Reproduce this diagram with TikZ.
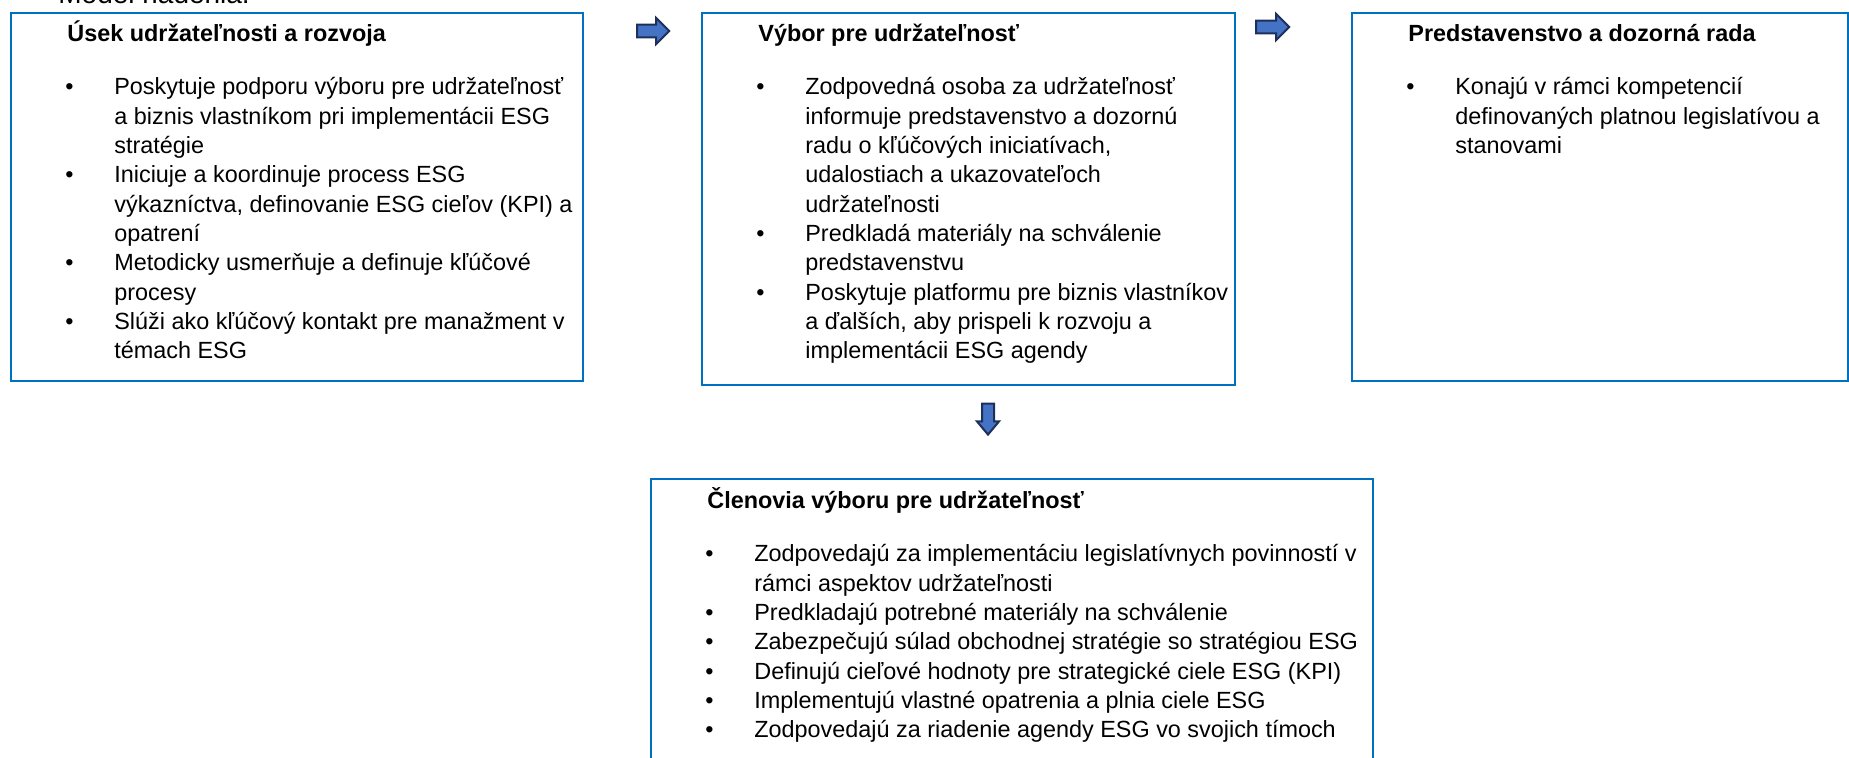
\documentclass[tikz,border=0pt]{standalone}
\usepackage{fontspec}
\setmainfont{Liberation Sans}
\usetikzlibrary{shapes.arrows}
\definecolor{boxblue}{RGB}{0,112,192}
\definecolor{arrowfill}{RGB}{68,114,196}
\definecolor{arrowline}{RGB}{28,48,90}

\begin{document}
\begin{tikzpicture}[x=0.5pt ,y=-0.5pt ,
		panel/.style ={ rectangle ,draw=boxblue ,line width=1pt ,anchor=north west ,inner sep=0pt},
		title/.style ={ anchor=base west ,inner sep=0pt ,font=\fontsize{11.7pt}{14.65pt}\selectfont\bfseries},
		points/.style ={ anchor=base west ,inner sep=0pt ,font=\fontsize{11.7pt}{14.65pt}\selectfont},
		flow/.style ={ single arrow ,draw=arrowline ,fill=arrowfill ,line width=1pt ,
			inner xsep=0pt ,inner ysep=2.7pt ,single arrow head extend=3.3pt ,minimum width=12pt}]
		\useasboundingbox (0,0) rectangle (1849,758);
		\node[anchor=base west ,inner sep=0pt ,font=\fontsize{14pt}{17pt}\selectfont] (heading) at (58,4) {Model riadenia:};
		\node[panel ,minimum width=286pt ,minimum height=184pt] (usek) at (10,12) {}; % box 1
		\node[panel ,minimum width=266.5pt ,minimum height=186pt] (vybor) at (701,12) {}; % box 2
		\node[panel ,minimum width=248pt ,minimum height=184pt] (rada) at (1351,12) {}; % box 3
		\node[panel ,minimum width=361pt ,minimum height=156pt] (clenovia) at (650,478) {}; % box 4
		\node[title] (usektitle) at ([shift={(57,30)}]usek.north west) {Úsek udržateľnosti a rozvoja};
		\node[points] (usekpoints) at ([shift={(55,83)}]usek.north west) {\begin{tabular}[t]{@{}p{24.5pt}@{}l@{}}
				\textbullet & Poskytuje podporu výboru pre udržateľnosť \\
				& a biznis vlastníkom pri implementácii ESG \\
				& stratégie \\
				\textbullet & Iniciuje a koordinuje process ESG \\
				& výkazníctva, definovanie ESG cieľov (KPI) a \\
				& opatrení \\
				\textbullet & Metodicky usmerňuje a definuje kľúčové \\
				& procesy \\
				\textbullet & Slúži ako kľúčový kontakt pre manažment v \\
				& témach ESG
			\end{tabular}};
		\node[title] (vyborttitle) at ([shift={(57,30)}]vybor.north west) {Výbor pre udržateľnosť};
		\node[points] (vyborpoints) at ([shift={(55,83)}]vybor.north west) {\begin{tabular}[t]{@{}p{24.5pt}@{}l@{}}
				\textbullet & Zodpovedná osoba za udržateľnosť \\
				& informuje predstavenstvo a dozornú \\
				& radu o kľúčových iniciatívach, \\
				& udalostiach a ukazovateľoch \\
				& udržateľnosti \\
				\textbullet & Predkladá materiály na schválenie \\
				& predstavenstvu \\
				\textbullet & Poskytuje platformu pre biznis vlastníkov \\
				& a ďalších, aby prispeli k rozvoju a \\
				& implementácii ESG agendy
			\end{tabular}};
		\node[title] (radatitle) at ([shift={(57,30)}]rada.north west) {Predstavenstvo a dozorná rada};
		\node[points] (radapoints) at ([shift={(55,83)}]rada.north west) {\begin{tabular}[t]{@{}p{24.5pt}@{}l@{}}
				\textbullet & Konajú v rámci kompetencií \\
				& definovaných platnou legislatívou a \\
				& stanovami
			\end{tabular}};
		\node[title] (clenoviatitle) at ([shift={(57,31)}]clenovia.north west) {Členovia výboru pre udržateľnosť};
		\node[points] (clenoviapoints) at ([shift={(55,84)}]clenovia.north west) {\begin{tabular}[t]{@{}p{24.5pt}@{}l@{}}
				\textbullet & Zodpovedajú za implementáciu legislatívnych povinností v \\
				& rámci aspektov udržateľnosti \\
				\textbullet & Predkladajú potrebné materiály na schválenie \\
				\textbullet & Zabezpečujú súlad obchodnej stratégie so stratégiou ESG \\
				\textbullet & Definujú cieľové hodnoty pre strategické ciele ESG (KPI) \\
				\textbullet & Implementujú vlastné opatrenia a plnia ciele ESG \\
				\textbullet & Zodpovedajú za riadenie agendy ESG vo svojich tímoch
			\end{tabular}};
		\node[flow ,minimum height=16pt] (arrowA) at (650,31) {}; % 1 to 2
		\node[flow ,minimum height=16.5pt] (arrowB) at (1269.5,27) {}; % 2 to 3
		\node[flow ,minimum height=15.5pt ,minimum width=10pt ,inner ysep=2.5pt ,single arrow head extend=2.5pt ,
			single arrow tip angle=80 ,rotate=-90] (arrowC) at (988,415.5) {}; % 2 to 4
\end{tikzpicture}
\end{document}
